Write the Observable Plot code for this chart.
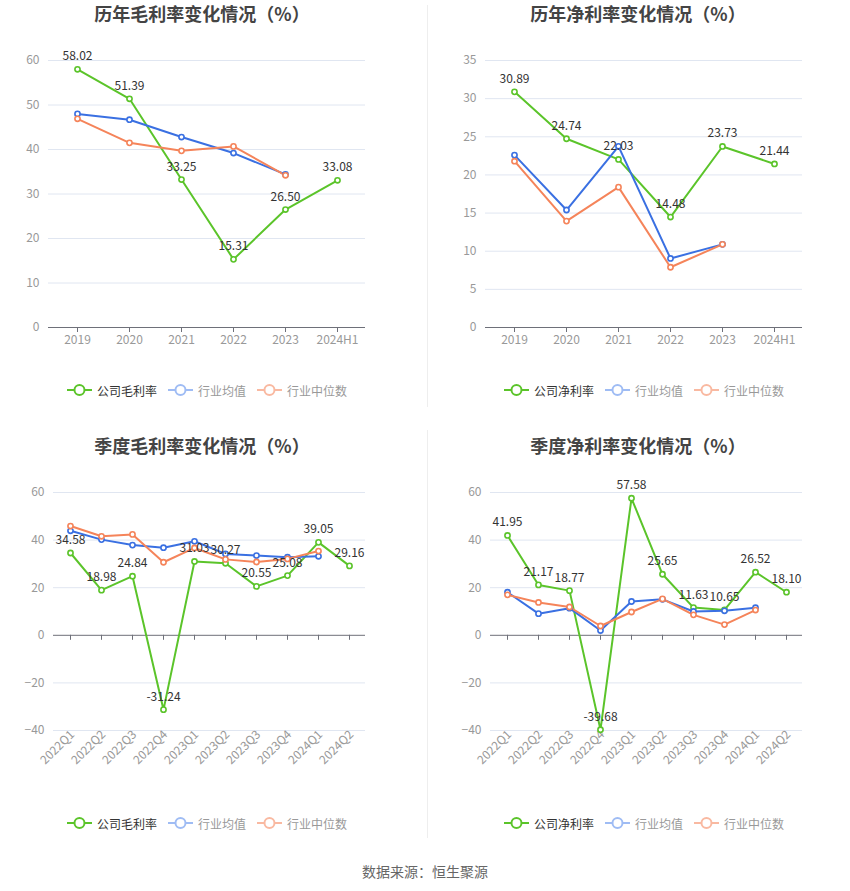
<!DOCTYPE html>
<html>
<head>
<meta charset="utf-8">
<script src="https://cdn.jsdelivr.net/npm/d3@7"></script>
<script src="https://cdn.jsdelivr.net/npm/@observablehq/plot@0.6"></script>
<style>
  html, body { margin: 0; padding: 0; background: #fff; }
  body { width: 850px; height: 891px; position: relative; overflow: hidden;
         font-family: "Noto Sans CJK SC", "Noto Sans", sans-serif; }
  .cell { position: absolute; width: 425px; height: 420px; }
  .title { position: absolute; top: 0; transform: translateX(-50%); white-space: nowrap;
           font-size: 18px; font-weight: bold; color: #444; line-height: 24px; }
  .plot { position: absolute; left: 0; }
  .legend { position: absolute; transform: translateX(-50%); display: flex; align-items: center;
            white-space: nowrap; font-size: 12px; height: 20px; }
  .item { display: flex; align-items: center; margin-right: 11px; }
  .item:last-child { margin-right: 0; }
  .item svg { margin-right: 5px; }
  .divider { position: absolute; left: 427px; width: 1px; background: #eeeeee; }
  .source { position: absolute; top: 861px; left: 0; width: 850px; text-align: center;
            font-size: 14px; color: #666; line-height: 20px; }
</style>
</head>
<body>
<script>
// ---------- data ----------
const years = ["2019", "2020", "2021", "2022", "2023", "2024H1"];
const quarters = ["2022Q1", "2022Q2", "2022Q3", "2022Q4", "2023Q1", "2023Q2", "2023Q3", "2023Q4", "2024Q1", "2024Q2"];

const annualGrossCompany = [58.02, 51.39, 33.25, 15.31, 26.50, 33.08];
const annualGrossAvg = [48.0, 46.7, 42.8, 39.2, 34.4];
const annualGrossMedian = [46.9, 41.5, 39.7, 40.7, 34.2];

const annualNetCompany = [30.89, 24.74, 22.03, 14.48, 23.73, 21.44];
const annualNetAvg = [22.6, 15.4, 23.75, 9.05, 10.9];
const annualNetMedian = [21.8, 13.95, 18.4, 7.9, 10.9];

const quarterGrossCompany = [34.58, 18.98, 24.84, -31.24, 31.03, 30.27, 20.55, 25.08, 39.05, 29.16];
const quarterGrossAvg = [43.9, 40.2, 37.9, 36.8, 39.5, 34.2, 33.5, 32.8, 33.2];
const quarterGrossMedian = [45.9, 41.6, 42.4, 30.7, 36.7, 31.9, 30.8, 32.1, 35.4];

const quarterNetCompany = [41.95, 21.17, 18.77, -39.68, 57.58, 25.65, 11.63, 10.65, 26.52, 18.10];
const quarterNetAvg = [18.1, 9.1, 11.4, 2.0, 14.2, 15.1, 10.0, 10.3, 11.6];
const quarterNetMedian = [17.0, 13.8, 11.9, 3.9, 9.8, 15.3, 8.6, 4.5, 10.6];

const ticksAnnualGross = [0, 10, 20, 30, 40, 50, 60];
const ticksAnnualNet = [0, 5, 10, 15, 20, 25, 30, 35];
const ticksQuarter = [-40, -20, 0, 20, 40, 60];

const titles = ["历年毛利率变化情况（%）", "历年净利率变化情况（%）", "季度毛利率变化情况（%）", "季度净利率变化情况（%）"];
const grossLegend = ["公司毛利率", "行业均值", "行业中位数"];
const netLegend = ["公司净利率", "行业均值", "行业中位数"];
const sourceText = "数据来源：恒生聚源";

// ---------- style ----------
const GREEN = "#5bc42a", BLUE = "#3a70e2", ORANGE = "#f5845a";
const LEG_ICON = [GREEN, "#9fbcf4", "#f9b9a1"];
const LEG_TEXT = ["#333", "#999", "#999"];

function panel(o) {
  const cell = document.createElement("div");
  cell.className = "cell";
  cell.style.left = o.left + "px";
  cell.style.top = o.top + "px";
  document.body.appendChild(cell);

  const t = document.createElement("div");
  t.className = "title";
  t.style.left = o.titleX + "px";
  t.style.top = o.titleTop + "px";
  t.textContent = o.title;
  cell.appendChild(t);

  const toRows = (vals) => vals.map((v, i) => ({c: o.cats[i], v}));
  const comp = toRows(o.company), avg = toRows(o.avg), med = toRows(o.median);
  const quarterly = o.rotate;

  const marks = [
    Plot.gridY(o.ticks.filter(d => d !== 0), {stroke: "#e0e6f1", strokeOpacity: 1}),
    Plot.ruleY([0], {stroke: "#6e7079"}),
    Plot.ruleX(o.cats, {x: d => d, y1: 0, y2: 0, insetBottom: -5, stroke: "#6e7079"}),
    Plot.axisY({ticks: o.ticks, tickSize: 0, tickPadding: 9, fill: "#999", fontSize: 12}),
    quarterly
      ? Plot.axisX({tickSize: 0, tickPadding: 2, tickRotate: -45, dx: 2, fill: "#999", fontSize: 12})
      : Plot.axisX({tickSize: 0, tickPadding: 8, fill: "#999", fontSize: 12}),
    Plot.line(comp, {x: "c", y: "v", stroke: GREEN, strokeWidth: 2}),
    Plot.line(avg, {x: "c", y: "v", stroke: BLUE, strokeWidth: 2}),
    Plot.line(med, {x: "c", y: "v", stroke: ORANGE, strokeWidth: 2}),
    Plot.dot(comp, {x: "c", y: "v", r: 2.6, fill: "#fff", stroke: GREEN, strokeWidth: 1.6}),
    Plot.dot(avg, {x: "c", y: "v", r: 2.6, fill: "#fff", stroke: BLUE, strokeWidth: 1.6}),
    Plot.dot(med, {x: "c", y: "v", r: 2.6, fill: "#fff", stroke: ORANGE, strokeWidth: 1.6}),
    Plot.text(comp, {x: "c", y: "v", text: d => d.v.toFixed(2), dy: -9, lineAnchor: "bottom",
                     fill: "#333", fontSize: 12})
  ];

  const chart = Plot.plot({
    width: 425,
    height: o.height,
    marginTop: o.marginTop,
    marginBottom: o.marginBottom,
    marginLeft: o.marginLeft,
    marginRight: o.marginRight,
    style: {background: "transparent", fontFamily: '"Noto Sans CJK SC", "Noto Sans", sans-serif', overflow: "visible"},
    x: {type: "point", domain: o.cats, padding: 0.5, label: null},
    y: {domain: o.yDomain, label: null},
    marks
  });
  chart.classList.add("plot");
  chart.style.top = o.plotTop + "px";
  cell.appendChild(chart);

  const lg = document.createElement("div");
  lg.className = "legend";
  lg.style.left = o.legendX + "px";
  lg.style.top = o.legendTop + "px";
  o.legend.forEach((name, i) => {
    const it = document.createElement("div");
    it.className = "item";
    it.innerHTML = `<svg width="25" height="14" viewBox="0 0 25 14"><line x1="0" y1="7" x2="25" y2="7" stroke="${LEG_ICON[i]}" stroke-width="2"/><circle cx="12.5" cy="7" r="5" fill="#fff" stroke="${LEG_ICON[i]}" stroke-width="2"/></svg><span style="color:${LEG_TEXT[i]}">${name}</span>`;
    lg.appendChild(it);
  });
  cell.appendChild(lg);
}

panel({left: 0, top: 0, title: titles[0], titleX: 202, titleTop: 1,
  cats: years, company: annualGrossCompany, avg: annualGrossAvg, median: annualGrossMedian,
  yDomain: [0, 60], ticks: ticksAnnualGross, rotate: false,
  plotTop: 30, height: 330, marginTop: 30, marginBottom: 33, marginLeft: 48, marginRight: 60,
  legend: grossLegend, legendX: 207, legendTop: 380});

panel({left: 425, top: 0, title: titles[1], titleX: 213, titleTop: 1,
  cats: years, company: annualNetCompany, avg: annualNetAvg, median: annualNetMedian,
  yDomain: [0, 35], ticks: ticksAnnualNet, rotate: false,
  plotTop: 30, height: 330, marginTop: 30, marginBottom: 33, marginLeft: 60, marginRight: 48,
  legend: netLegend, legendX: 219, legendTop: 380});

panel({left: 0, top: 420, title: titles[2], titleX: 202, titleTop: 13,
  cats: quarters, company: quarterGrossCompany, avg: quarterGrossAvg, median: quarterGrossMedian,
  yDomain: [-40, 60], ticks: ticksQuarter, rotate: true,
  plotTop: 40, height: 340, marginTop: 32, marginBottom: 70, marginLeft: 53, marginRight: 60,
  legend: grossLegend, legendX: 207, legendTop: 393});

panel({left: 425, top: 420, title: titles[3], titleX: 213, titleTop: 13,
  cats: quarters, company: quarterNetCompany, avg: quarterNetAvg, median: quarterNetMedian,
  yDomain: [-40, 60], ticks: ticksQuarter, rotate: true,
  plotTop: 40, height: 340, marginTop: 32, marginBottom: 70, marginLeft: 65, marginRight: 48,
  legend: netLegend, legendX: 219, legendTop: 393});

const d1 = document.createElement("div");
d1.className = "divider"; d1.style.top = "5px"; d1.style.height = "402px";
document.body.appendChild(d1);
const d2 = document.createElement("div");
d2.className = "divider"; d2.style.top = "430px"; d2.style.height = "408px";
document.body.appendChild(d2);

const src = document.createElement("div");
src.className = "source";
src.textContent = sourceText;
document.body.appendChild(src);
</script>
</body>
</html>
